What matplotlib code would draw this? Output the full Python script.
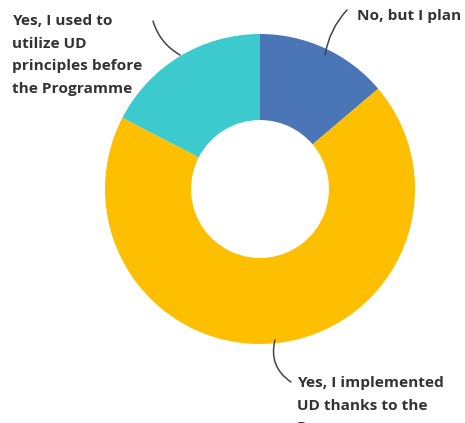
import matplotlib.pyplot as plt

labels = ['No, but I plan',
          'Yes, I implemented\nUD thanks to the\nProgramme',
          'Yes, I used to\nutilize UD\nprinciples before\nthe Programme']
values = [13.8, 68.8, 17.4]
colors = ['#4a75b7', '#fdbf00', '#3dcace']

# pixel layout -> data units (centre 260,189 px, radius 155 px)
CX, CY, R = 260, 189, 155


def px(x, y):
    return (x - CX) / R, (CY - y) / R


fig = plt.figure(figsize=(4.65, 4.23), dpi=100)
ax = fig.add_axes([0, 0, 1, 1])
ax.pie(values, colors=colors, startangle=90, counterclock=False, radius=1,
       wedgeprops=dict(width=0.555, edgecolor='none'))
ax.set_xlim(-CX / R, (465 - CX) / R)
ax.set_ylim(-(423 - CY) / R, CY / R)
ax.set_aspect('auto')
ax.axis('off')

txt = dict(fontsize=11.1, fontweight='bold', color='#333333', family=['Open Sans', 'DejaVu Sans'],
           linespacing=1.78)
line = dict(arrowstyle='-', color='#444444', lw=1.1, shrinkA=0, shrinkB=0)

# No, but I plan
ax.annotate('', xy=px(325, 55), xytext=px(347, 10),
            arrowprops=dict(connectionstyle='arc3,rad=0.15', **line))
ax.text(*px(357, 16), labels[0], ha='left', va='center', **txt)

# Yes, I used to ...
ax.annotate('', xy=px(180, 55), xytext=px(153, 21),
            arrowprops=dict(connectionstyle='arc3,rad=0.2', **line))
ax.text(*px(12, 14), labels[2], ha='left', va='top', **txt)

# Yes, I implemented ...
ax.annotate('', xy=px(275, 340), xytext=px(291, 382),
            arrowprops=dict(connectionstyle='arc3,rad=-0.35', **line))
ax.text(*px(297, 376), labels[1], ha='left', va='top', **txt)

fig.savefig('out.png', dpi=100)
